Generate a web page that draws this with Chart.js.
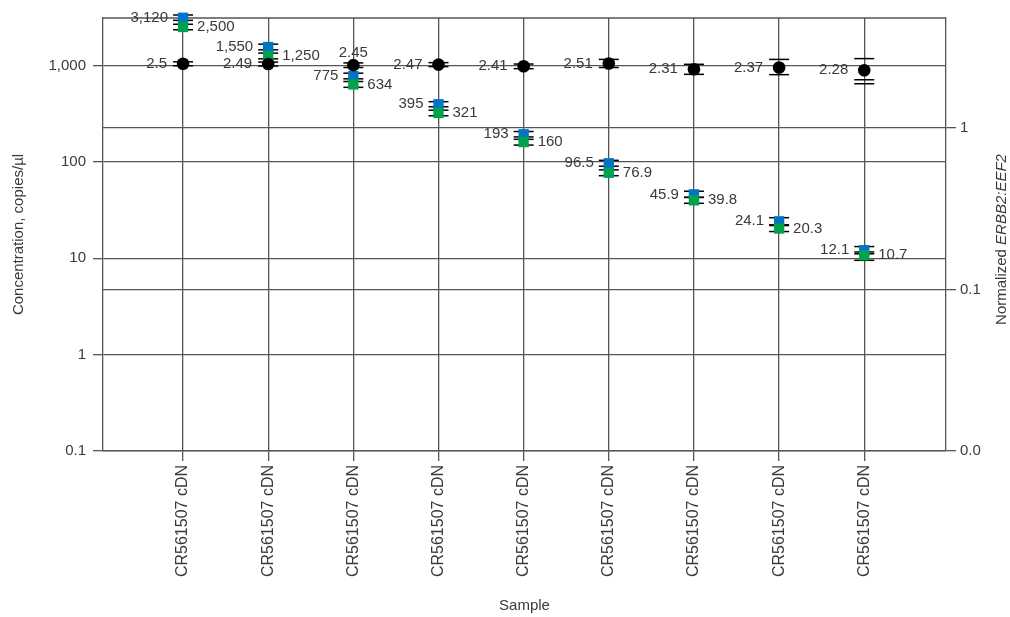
<!DOCTYPE html>
<html>
<head>
<meta charset="utf-8">
<script src="https://cdn.jsdelivr.net/npm/chart.js@4.4.1/dist/chart.umd.min.js"></script>
<style>
  html, body { margin: 0; padding: 0; background: #fff; }
</style>
</head>
<body>
<canvas id="myChart" width="1010" height="617"></canvas>
<script>
// samples on the x axis
const samples = ['CR561507 cDN', 'CR561507 cDN', 'CR561507 cDN', 'CR561507 cDN', 'CR561507 cDN',
                 'CR561507 cDN', 'CR561507 cDN', 'CR561507 cDN', 'CR561507 cDN'];

// concentration, copies/µl (left axis)
const erbb2 = [3120, 1550, 775, 395, 193, 96.5, 45.9, 24.1, 12.1];
const erbb2Hi = [3330, 1660, 830, 420, 206, 103.5, 49.5, 26.3, 13.2];
const erbb2Lo = [2930, 1450, 725, 372, 181, 90, 42.8, 22.2, 11.1];
const eef2 = [2500, 1250, 634, 321, 160, 76.9, 39.8, 20.3, 10.7];
const eef2Hi = [2670, 1340, 680, 343, 171, 82.4, 42.7, 21.8, 11.6];
const eef2Lo = [2340, 1170, 592, 300, 149, 71.7, 37.1, 18.9, 9.5];

// normalized ERBB2:EEF2 (right axis)
const ratio = [2.5, 2.49, 2.45, 2.47, 2.41, 2.51, 2.31, 2.37, 2.28];
const ratioHi = [2.57, 2.56, 2.53, 2.54, 2.49, 2.66, 2.48, 2.66, 2.69];
const ratioLo = [2.43, 2.42, 2.37, 2.40, 2.33, 2.37, 2.15, 2.14, 1.99];
const ratioLo2 = [null, null, null, null, null, null, null, null, 1.88];

// tick labels
const concTicks = [0.1, 1, 10, 100, 1000];
const ratioTicks = [0.01, 0.1, 1];

const FONT = '"Liberation Sans", Arial, sans-serif';
const TXT = '#3a3a3a';
const GRID = '#555';

const pts = arr => arr.map((v, i) => ({ x: i + 1, y: v }));

// error bar caps, drawn under the markers
const errorSets = [
  { axis: 'y2', hi: ratioHi, lo: ratioLo },
  { axis: 'y2', lo: ratioLo2 },
  { axis: 'y', hi: erbb2Hi, lo: erbb2Lo },
  { axis: 'y', hi: eef2Hi, lo: eef2Lo }
];

const errorBars = {
  id: 'errorBars',
  beforeDatasetsDraw(chart) {
    const ctx = chart.ctx;
    const xs = chart.scales.x;
    ctx.save();
    // frame top
    const a = chart.chartArea;
    ctx.strokeStyle = GRID;
    ctx.lineWidth = 1.3;
    ctx.beginPath();
    ctx.moveTo(a.left, a.top);
    ctx.lineTo(a.right, a.top);
    ctx.stroke();

    ctx.strokeStyle = '#000';
    ctx.lineWidth = 1.5;
    errorSets.forEach(set => {
      const ys = chart.scales[set.axis];
      samples.forEach((s, i) => {
        const x = xs.getPixelForValue(i + 1);
        [set.hi, set.lo].forEach(arr => {
          if (!arr || arr[i] == null) return;
          const y = ys.getPixelForValue(arr[i]);
          ctx.beginPath();
          ctx.moveTo(x - 10, y);
          ctx.lineTo(x + 10, y);
          ctx.stroke();
        });
      });
    });
    ctx.restore();
  }
};

// value labels beside the points
const valueLabels = {
  id: 'valueLabels',
  afterDatasetsDraw(chart) {
    const ctx = chart.ctx;
    const xs = chart.scales.x;
    const yl = chart.scales.y;
    const yr = chart.scales.y2;
    ctx.save();
    ctx.font = '15px ' + FONT;
    ctx.fillStyle = TXT;
    ctx.textBaseline = 'middle';
    samples.forEach((s, i) => {
      const x = xs.getPixelForValue(i + 1);
      ctx.textAlign = 'right';
      ctx.fillText(erbb2[i].toLocaleString('en-US'), x - 15, yl.getPixelForValue(erbb2[i]));
      ctx.textAlign = 'left';
      ctx.fillText(eef2[i].toLocaleString('en-US'), x + 14, yl.getPixelForValue(eef2[i]));
      const yr0 = yr.getPixelForValue(ratio[i]);
      if (i === 2) {
        ctx.textAlign = 'center';
        ctx.fillText(String(ratio[i]), x, yr0 - 12);
      } else {
        ctx.textAlign = 'right';
        ctx.fillText(String(ratio[i]), x - 16, yr0);
      }
    });
    ctx.restore();
  }
};

// right axis title, part in italics, reads bottom to top
const rightTitle = {
  id: 'rightTitle',
  afterDraw(chart) {
    const ctx = chart.ctx;
    const a = chart.chartArea;
    const t1 = 'Normalized ';
    const t2 = 'ERBB2:EEF2';
    ctx.save();
    ctx.translate(1002, (a.top + a.bottom) / 2 + 5);
    ctx.rotate(-Math.PI / 2);
    ctx.fillStyle = TXT;
    ctx.textBaseline = 'middle';
    ctx.textAlign = 'left';
    ctx.font = '15px ' + FONT;
    const w1 = ctx.measureText(t1).width;
    ctx.font = 'italic 15px ' + FONT;
    const w2 = ctx.measureText(t2).width;
    const x0 = -(w1 + w2) / 2;
    ctx.font = '15px ' + FONT;
    ctx.fillText(t1, x0, 0);
    ctx.font = 'italic 15px ' + FONT;
    ctx.fillText(t2, x0 + w1, 0);
    ctx.restore();
  }
};

const ctx = document.getElementById('myChart').getContext('2d');
const myChart = new Chart(ctx, {
  type: 'scatter',
  data: {
    datasets: [{
      label: 'ERBB2:EEF2',
      data: pts(ratio),
      yAxisID: 'y2',
      pointStyle: 'circle',
      pointRadius: 6.3,
      backgroundColor: '#000',
      borderColor: '#000',
      borderWidth: 0,
      order: 0,
      clip: false
    }, {
      label: 'EEF2',
      data: pts(eef2),
      yAxisID: 'y',
      pointStyle: 'rect',
      pointRadius: 7.3,
      backgroundColor: '#00a14f',
      borderWidth: 0,
      order: 1,
      clip: false
    }, {
      label: 'ERBB2',
      data: pts(erbb2),
      yAxisID: 'y',
      pointStyle: 'rect',
      pointRadius: 7.3,
      backgroundColor: '#0075c4',
      borderWidth: 0,
      order: 2,
      clip: false
    }]
  },
  options: {
    responsive: false,
    animation: false,
    layout: { padding: { top: 18, left: 0, right: 0, bottom: 0 } },
    plugins: {
      legend: { display: false },
      tooltip: { enabled: false }
    },
    scales: {
      x: {
        type: 'linear',
        min: 0.06,
        max: 9.96,
        afterBuildTicks: s => { s.ticks = samples.map((_, i) => ({ value: i + 1 })); },
        afterFit: s => { s.height = 166; },
        ticks: {
          callback: v => samples[v - 1],
          minRotation: 90,
          maxRotation: 90,
          autoSkip: false,
          padding: 4,
          color: TXT,
          font: { family: FONT, size: 16 }
        },
        grid: { color: GRID, lineWidth: 1.3, tickLength: 10 },
        border: { color: GRID, width: 1.3 },
        title: {
          display: true,
          text: 'Sample',
          color: TXT,
          font: { family: FONT, size: 15 },
          padding: { top: 0, bottom: 2 }
        }
      },
      y: {
        type: 'logarithmic',
        position: 'left',
        min: 0.1,
        max: 3100,
        afterBuildTicks: s => { s.ticks = concTicks.map(v => ({ value: v })); },
        afterFit: s => { s.width = 103; },
        ticks: {
          callback: v => v.toLocaleString('en-US'),
          padding: 7,
          color: TXT,
          font: { family: FONT, size: 15 }
        },
        grid: { color: GRID, lineWidth: 1.3, tickLength: 10 },
        border: { color: GRID, width: 1.3 },
        title: {
          display: true,
          text: 'Concentration, copies/µl',
          color: TXT,
          font: { family: FONT, size: 15 },
          padding: { top: 10, bottom: 0 }
        }
      },
      y2: {
        type: 'logarithmic',
        position: 'right',
        min: 0.01,
        max: 4.8,
        afterBuildTicks: s => { s.ticks = ratioTicks.map(v => ({ value: v })); },
        afterFit: s => { s.width = 64; },
        ticks: {
          callback: v => v < 0.05 ? '0.0' : String(v),
          padding: 4,
          color: TXT,
          font: { family: FONT, size: 15 }
        },
        grid: { color: GRID, lineWidth: 1.3, tickLength: 10 },
        border: { color: GRID, width: 1.3 }
      }
    }
  },
  plugins: [errorBars, valueLabels, rightTitle]
});
</script>
</body>
</html>
